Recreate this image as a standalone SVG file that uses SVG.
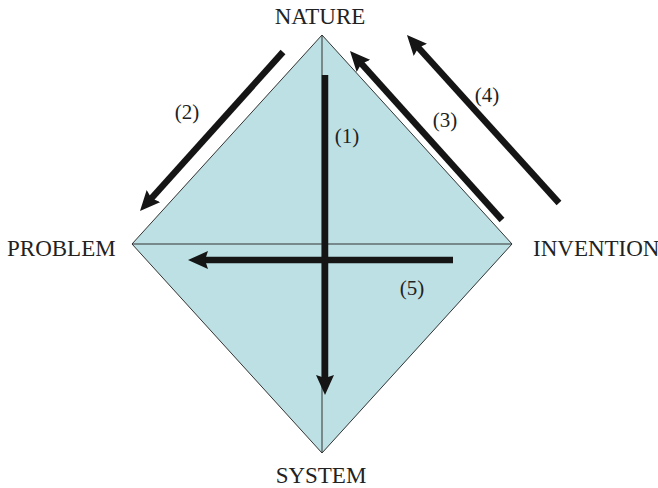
<svg xmlns="http://www.w3.org/2000/svg" width="658" height="488" viewBox="0 0 658 488">
<style>
.lbl{font-family:"Liberation Serif","Times New Roman",serif;font-size:23px;fill:#222}
.num{font-family:"Liberation Serif","Times New Roman",serif;font-size:21px;fill:#222}
.thin{stroke:#333;stroke-width:1;fill:none}
.arr{stroke:#151515;stroke-width:6.5;fill:none;marker-end:url(#ah)}
</style>
<defs>
<marker id="ah" viewBox="0 0 20 18" markerWidth="20" markerHeight="18" markerUnits="userSpaceOnUse" refX="4" refY="9" orient="auto">
<path d="M0,0 L20,9 L0,18 L3,9 z" fill="#151515"/>
</marker>
</defs>
<g id="diamond">
<polygon points="322,35 512,244 322,453 132,244" fill="#bde0e4" stroke="#333" stroke-width="1"/>
<line class="thin" x1="132" y1="244" x2="512" y2="244"/>
<line class="thin" x1="322" y1="35" x2="322" y2="453"/>
</g>
<g id="nature"><text class="lbl" x="320" y="24" text-anchor="middle">NATURE</text></g>
<g id="problem"><text class="lbl" x="7" y="256">PROBLEM</text></g>
<g id="invention"><text class="lbl" x="533" y="256">INVENTION</text></g>
<g id="system"><text class="lbl" x="321" y="483" text-anchor="middle">SYSTEM</text></g>
<g id="connectors">
<line class="arr" x1="325" y1="75" x2="325" y2="379"/>
<line class="arr" x1="453" y1="260" x2="204" y2="260"/>
<line class="arr" x1="283" y1="52" x2="150.7" y2="199.1"/>
<line class="arr" x1="502" y1="220" x2="360.7" y2="62.9"/>
<line class="arr" x1="559" y1="203" x2="417.7" y2="46.9"/>
<text class="num" x="347" y="143" text-anchor="middle">(1)</text>
<text class="num" x="187" y="119" text-anchor="middle">(2)</text>
<text class="num" x="445" y="127" text-anchor="middle">(3)</text>
<text class="num" x="487" y="102" text-anchor="middle">(4)</text>
<text class="num" x="412" y="295" text-anchor="middle">(5)</text>
</g>
</svg>
